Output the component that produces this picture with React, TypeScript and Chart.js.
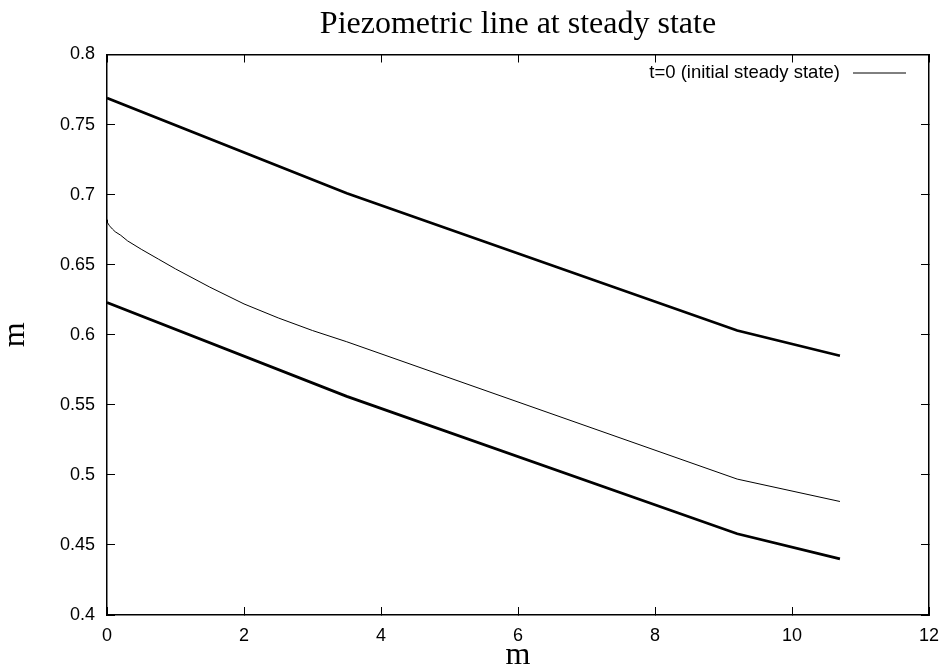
import React, { useEffect, useRef } from 'react';
import { Chart, registerables } from 'chart.js';

Chart.register(...registerables);

const titleText = 'Piezometric line at steady state';
const xAxisTitle = 'm';
const yAxisTitle = 'm';
const legendLabel = 't=0 (initial steady state)';

const xMin = 0;
const xMax = 12;
const xStep = 2;
const yMin = 0.4;
const yMax = 0.8;
const yStep = 0.05;

const upperX = [0, 3.5, 9.2, 10.7];
const upperY = [0.769, 0.701, 0.603, 0.585];

const lowerX = [0, 3.5, 9.2, 10.7];
const lowerY = [0.623, 0.556, 0.458, 0.44];

const initialX = [0, 0.005, 0.01, 0.02, 0.035, 0.05, 0.08, 0.12, 0.2, 0.3, 0.5, 0.75, 1.0, 1.5, 2.0, 2.5, 3.0, 3.5, 9.2, 10.7];
const initialY = [0.682, 0.6806, 0.68, 0.679, 0.6779, 0.677, 0.6754, 0.6735, 0.671, 0.667, 0.661, 0.654, 0.647, 0.634, 0.622, 0.612, 0.603, 0.595, 0.497, 0.481];

const SANS = '"Liberation Sans", Arial, Helvetica, sans-serif';
const SERIF = '"Liberation Serif", "Times New Roman", serif';

const toPoints = (xs: number[], ys: number[]) => xs.map((x, i) => ({ x, y: ys[i] }));

const insideLegend = {
  id: 'insideLegend',
  afterDatasetsDraw(chart: any) {
    const ds = chart.data.datasets.find((d: any) => d.label === legendLabel);
    if (!ds) return;
    const { ctx, chartArea } = chart;
    const y = chartArea.top + 18.5;
    const lineRight = chartArea.right - 23;
    const lineLeft = lineRight - 53;
    ctx.save();
    ctx.font = `18.5px ${SANS}`;
    ctx.fillStyle = '#000';
    ctx.textAlign = 'right';
    ctx.textBaseline = 'middle';
    ctx.fillText(ds.label, lineLeft - 13, y);
    ctx.strokeStyle = ds.borderColor;
    ctx.lineWidth = ds.borderWidth;
    ctx.beginPath();
    ctx.moveTo(lineLeft, y);
    ctx.lineTo(lineRight, y);
    ctx.stroke();
    ctx.restore();
  },
};

const fmt = (v: number) => String(Number(Number(v).toFixed(2)));

const noPad = (s: any) => {
  s.paddingLeft = 0;
  s.paddingRight = 0;
  s.paddingTop = 0;
  s.paddingBottom = 0;
};

export default function App() {
  const ref = useRef<HTMLCanvasElement | null>(null);

  useEffect(() => {
    if (!ref.current) return;
    const tickGrid = {
      display: true,
      drawOnChartArea: false,
      drawTicks: true,
      tickLength: -8,
      color: '#000',
      lineWidth: 1,
    };
    const border = { display: true, color: '#000', width: 1.5 };
    const chart = new Chart(ref.current, {
      type: 'line',
      data: {
        datasets: [
          {
            label: 'upper',
            data: toPoints(upperX, upperY),
            borderColor: '#000',
            backgroundColor: '#000',
            borderWidth: 2.75,
            pointRadius: 0,
            tension: 0,
            fill: false,
            xAxisID: 'x',
            yAxisID: 'y',
          },
          {
            label: legendLabel,
            data: toPoints(initialX, initialY),
            borderColor: '#000',
            backgroundColor: '#000',
            borderWidth: 1,
            pointRadius: 0,
            tension: 0,
            fill: false,
            xAxisID: 'x',
            yAxisID: 'y',
          },
          {
            label: 'lower',
            data: toPoints(lowerX, lowerY),
            borderColor: '#000',
            backgroundColor: '#000',
            borderWidth: 2.75,
            pointRadius: 0,
            tension: 0,
            fill: false,
            xAxisID: 'x',
            yAxisID: 'y',
          },
        ],
      },
      options: {
        responsive: false,
        animation: false,
        events: [],
        layout: { padding: 0 },
        plugins: {
          legend: { display: false },
          title: { display: false },
          tooltip: { enabled: false },
        },
        scales: {
          x: {
            type: 'linear',
            position: 'bottom',
            min: xMin,
            max: xMax,
            ticks: {
              stepSize: xStep,
              color: '#000',
              font: { family: SANS, size: 18 },
              padding: 18,
              maxRotation: 0,
              callback: (v: any) => fmt(v),
            },
            grid: tickGrid,
            border,
            title: {
              display: true,
              text: xAxisTitle,
              color: '#000',
              font: { family: SERIF, size: 32, lineHeight: 1 },
              padding: 0,
            },
            afterFit: (s: any) => {
              s.height = 57;
              noPad(s);
            },
          },
          xTop: {
            type: 'linear',
            position: 'top',
            min: xMin,
            max: xMax,
            ticks: { display: false, stepSize: xStep },
            grid: tickGrid,
            border,
            title: {
              display: true,
              text: titleText,
              color: '#000',
              font: { family: SERIF, size: 32, lineHeight: 1 },
              padding: { top: 8.5, bottom: 0 },
            },
            afterFit: (s: any) => {
              s.height = 54.5;
              noPad(s);
            },
          },
          y: {
            type: 'linear',
            position: 'left',
            min: yMin,
            max: yMax,
            ticks: {
              stepSize: yStep,
              color: '#000',
              font: { family: SANS, size: 18 },
              padding: 20,
              callback: (v: any) => fmt(v),
            },
            grid: tickGrid,
            border,
            title: {
              display: true,
              text: yAxisTitle,
              color: '#000',
              font: { family: SERIF, size: 32, lineHeight: 1 },
              padding: 0,
            },
            afterFit: (s: any) => {
              s.width = 107;
              noPad(s);
            },
          },
          yRight: {
            type: 'linear',
            position: 'right',
            min: yMin,
            max: yMax,
            ticks: { display: false, stepSize: yStep },
            grid: tickGrid,
            border,
            afterFit: (s: any) => {
              s.width = 16;
              noPad(s);
            },
          },
        },
      },
      plugins: [insideLegend],
    } as any);
    return () => chart.destroy();
  }, []);

  return (
    <div style={{ position: 'absolute', left: 0, top: 0, width: 945, height: 672, background: '#fff' }}>
      <canvas ref={ref} width={945} height={672} style={{ display: 'block' }} />
    </div>
  );
}
